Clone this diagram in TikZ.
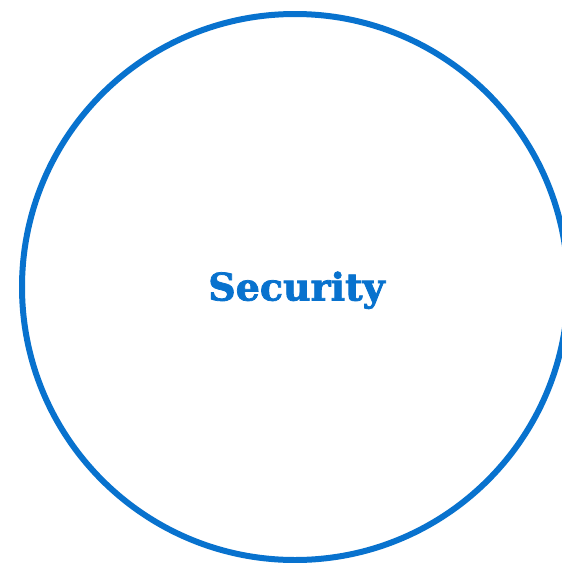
\documentclass[tikz,border=0pt]{standalone}
\usepackage{fontspec}
\newfontfamily\labelfont[BoldFeatures={FakeBold=2}]{DejaVu Serif}
\definecolor{ringblue}{RGB}{8,114,206}
\tikzset{
  ring/.style={circle, draw=ringblue, line width=6pt, minimum size=546pt, inner sep=0pt},
  title/.style={text=ringblue, font=\labelfont\bfseries\fontsize{38}{42}\selectfont, inner sep=0pt, anchor=base}
}
\begin{document}
\begin{tikzpicture}[x=1pt,y=1pt]
\useasboundingbox (0,0) rectangle (562,-563);
\clip (0,0) rectangle (562,-563);
\fill[white] (0,0) rectangle (562,-563);
\node[ring] (circ) at (295,-287) {};
\node[title] (lbl) at (296.5,-300.5) {Security};
\end{tikzpicture}
\end{document}
